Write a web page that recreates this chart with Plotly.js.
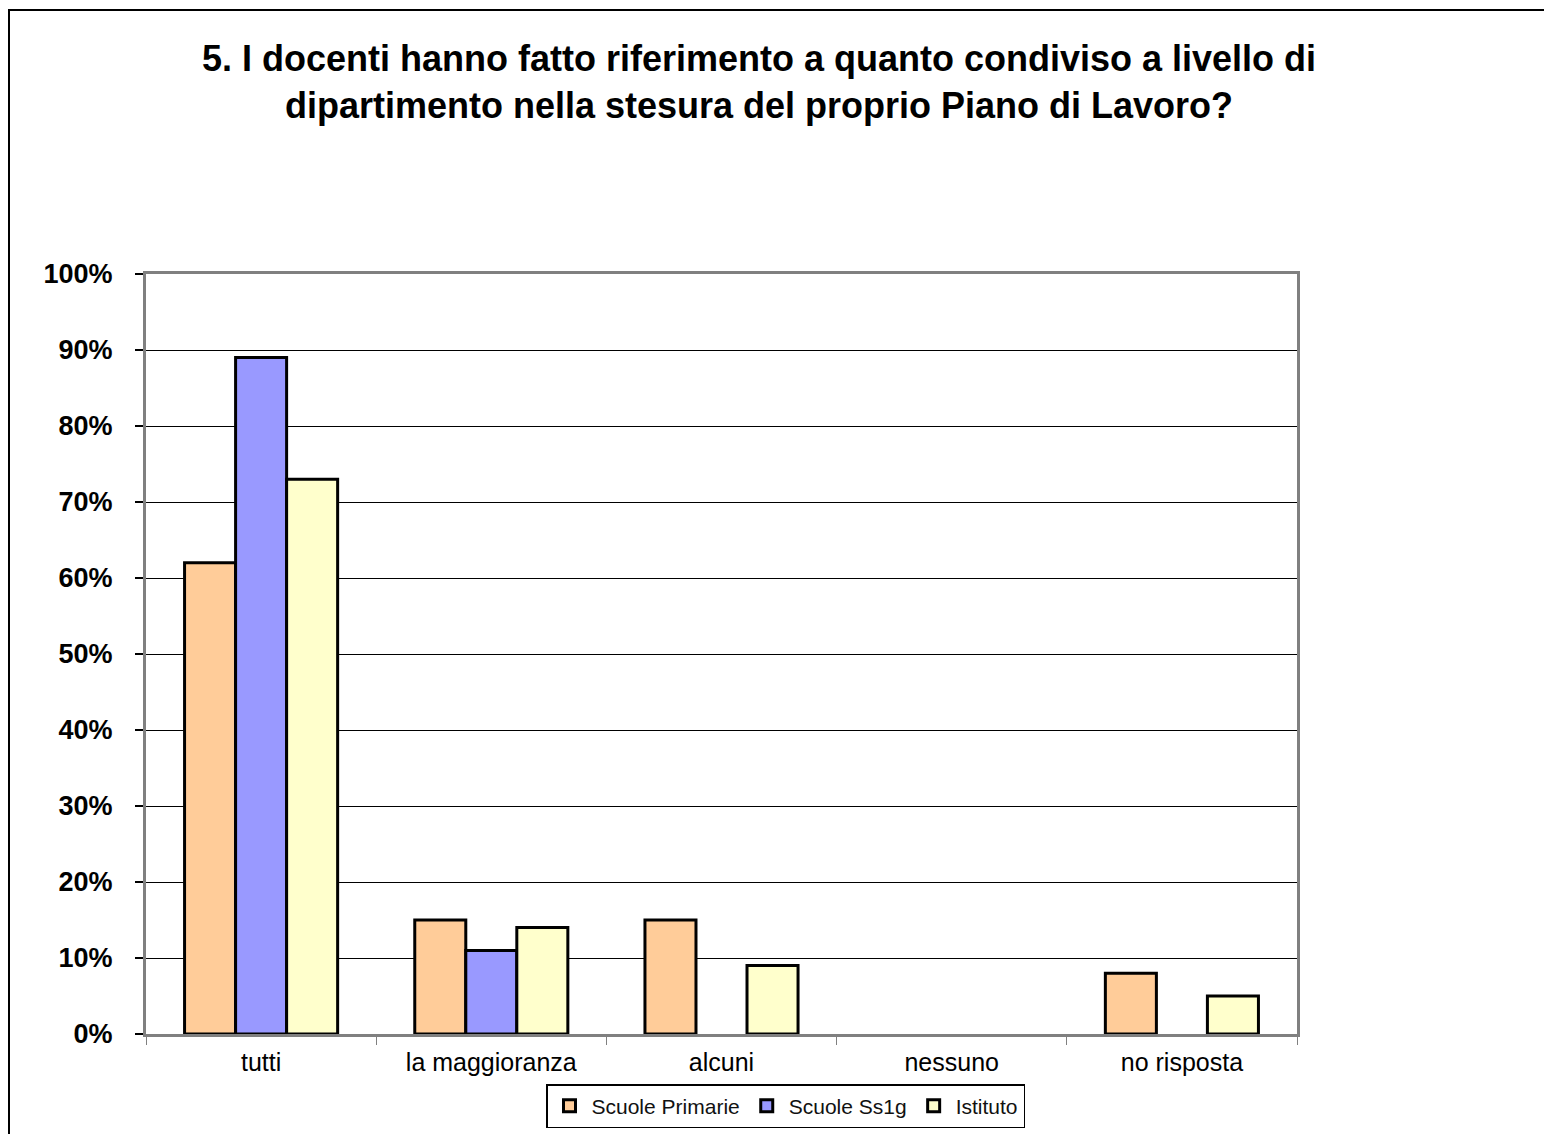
<!DOCTYPE html>
<html>
<head>
<meta charset="utf-8">
<script src="https://cdn.plot.ly/plotly-3.0.1.min.js"></script>
<style>
  html, body { margin: 0; padding: 0; background: #fff; }
  #chart { width: 1544px; height: 1134px; position: absolute; left: 0; top: 0; }
  #frame { position: absolute; left: 8px; top: 9px; width: 1540px; height: 1130px;
           border-left: 2px solid #000; border-top: 2px solid #000; pointer-events: none; }
</style>
</head>
<body>
<div id="chart"></div>
<div id="frame"></div>
<script>
const categories = ["tutti", "la maggioranza", "alcuni", "nessuno", "no risposta"];
const seriesNames = ["Scuole Primarie", "Scuole Ss1g", "Istituto"];
const primarie = [62, 15, 15, 0, 8];
const ss1g = [89, 11, 0, 0, 0];
const istituto = [73, 14, 9, 0, 5];
const yTickVals = [0, 10, 20, 30, 40, 50, 60, 70, 80, 90, 100];
const yTickText = ["0%", "10%", "20%", "30%", "40%", "50%", "60%", "70%", "80%", "90%", "100%"];
const titleText = "5. I docenti hanno fatto riferimento a quanto condiviso a livello di<br>dipartimento nella stesura del proprio Piano di Lavoro?";

const colors = ["#FFCC99", "#9999FF", "#FFFFCC"];
const values = [primarie, ss1g, istituto];

const traces = values.map((v, i) => ({
  type: "bar",
  name: seriesNames[i],
  x: categories,
  y: v,
  marker: {
    color: colors[i],
    line: { color: "#000", width: v.map(d => (d === 0 ? 0 : 3)) }
  },
  hoverinfo: "skip"
}));

const layout = {
  width: 1544,
  height: 1134,
  margin: { l: 146, r: 247, t: 274, b: 100 },
  paper_bgcolor: "#fff",
  plot_bgcolor: "#fff",
  font: { family: "Liberation Sans, Arial, sans-serif", color: "#000" },
  title: {
    text: titleText,
    font: { family: "Liberation Sans, Arial, sans-serif", size: 36, color: "#000", weight: "bold" },
    xref: "container", x: 759 / 1544, xanchor: "center",
    yref: "container", y: 1 - 71 / 1134, yanchor: "top"
  },
  barmode: "group",
  bargap: 0.335,
  bargroupgap: 0,
  xaxis: {
    type: "category",
    showline: true, linecolor: "#808080", linewidth: 3, mirror: true,
    ticks: "outside", tickson: "boundaries", ticklen: 8, tickcolor: "#808080", tickwidth: 1,
    ticklabelstandoff: 4,
    tickfont: { size: 25, color: "#000" },
    showgrid: false, zeroline: false
  },
  yaxis: {
    range: [0, 100],
    tickvals: yTickVals, ticktext: yTickText,
    showline: true, linecolor: "#808080", linewidth: 3, mirror: true,
    ticks: "outside", ticklen: 8, tickcolor: "#000", tickwidth: 2,
    ticklabelstandoff: 17,
    tickfont: { size: 27, color: "#000", weight: "bold" },
    showgrid: true, gridcolor: "#000", gridwidth: 1,
    zeroline: false
  },
  legend: {
    orientation: "h",
    xref: "container", x: 785.5 / 1544, xanchor: "center",
    yref: "container", y: 1 - 1084 / 1134, yanchor: "top",
    bordercolor: "#000", borderwidth: 1.5, bgcolor: "#fff",
    font: { size: 21, color: "#111" },
    itemwidth: 34
  },
  showlegend: true
};

Plotly.newPlot("chart", traces, layout, { displayModeBar: false, staticPlot: true });
</script>
</body>
</html>
